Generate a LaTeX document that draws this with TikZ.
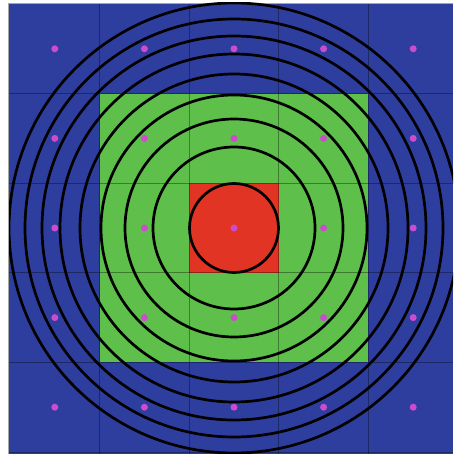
\documentclass[tikz,border=0pt]{standalone}
\usepackage{tikz}
\definecolor{cellblue}{RGB}{46,62,158}
\definecolor{cellgreen}{RGB}{94,192,74}
\definecolor{cellred}{RGB}{226,52,36}
\definecolor{dotmag}{RGB}{205,75,205}
\tikzset{
  gridline/.style={draw=black, draw opacity=0.35, line width=0.9pt},
  ring/.style={draw=black, line width=2.7pt},
  dotmark/.style={fill=dotmag},
  edgeline/.style={draw=gray!70, line width=0.8pt}
}
\begin{document}
\begin{tikzpicture}[x=1pt,y=-1pt]
\useasboundingbox (0,0) rectangle (453,454);
% background cells
\fill[cellblue] (9,4) rectangle (453,454);
\fill[cellgreen] (99.6,93.6) rectangle (368.4,362.4);
\fill[cellred] (189.2,183.2) rectangle (278.8,272.8);
% grid
\foreach \gx in {99.6,189.2,278.8,368.4} {
  \draw[gridline] (\gx,4) -- (\gx,454);
}
\foreach \gy in {93.6,183.2,272.8,362.4,452} {
  \draw[gridline] (9,\gy) -- (453,\gy);
}
% thin outer edge
\draw[edgeline] (8,3) -- (453,3);
\draw[edgeline] (8,3) -- (8,454);
% rings
\begin{scope}
\clip (9,3) rectangle (453,454);
\coordinate (c) at (234,228);
\foreach \r in {44.5,81,109,133,154,174,192,209,225} {
  \draw[ring] (c) circle[radius=\r];
}
\end{scope}
% dots at cell centres
\foreach \i in {0,...,4} {
  \foreach \j in {0,...,4} {
    \fill[dotmark] ({54.8+89.6*\i},{48.8+89.6*\j}) circle[radius=3.5];
  }
}
\end{tikzpicture}
\end{document}
